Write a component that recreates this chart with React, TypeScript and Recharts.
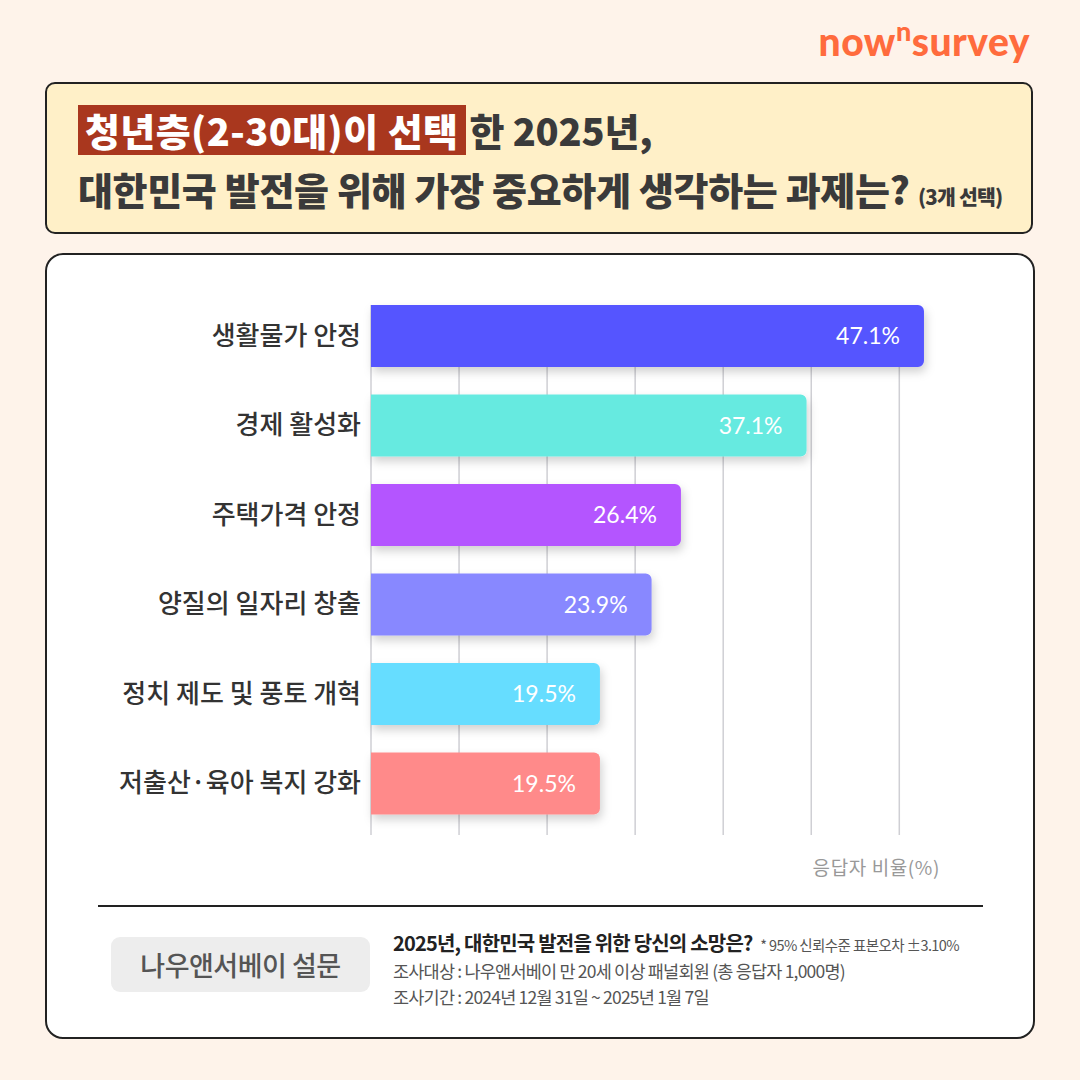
import React from 'react';
import { BarChart, Bar, XAxis, YAxis, CartesianGrid, Cell, LabelList } from 'recharts';

const categories = ['생활물가 안정', '경제 활성화', '주택가격 안정', '양질의 일자리 창출', '정치 제도 및 풍토 개혁', '저출산·육아 복지 강화'];
const shares = [47.1, 37.1, 26.4, 23.9, 19.5, 19.5];
const barColors = ['#5454FF', '#66EAE0', '#B455FF', '#8888FF', '#66DDFF', '#FF8A8A'];
const gridTicks = [0, 7.5, 15, 22.5, 30, 37.5, 45];

const KR = '"Noto Sans CJK KR", "Noto Sans", sans-serif';
const NUM = 'Lato, "Noto Sans", sans-serif';

const data = categories.map((name, i) => ({ name, value: shares[i] }));

const CategoryTick = (props: any) => {
  const { x, y, payload } = props;
  return (
    <text x={x - 2} y={y} dy={9} textAnchor="end" fill="#333" fontSize={26} fontWeight={500} fontFamily={KR}>
      {payload.value}
    </text>
  );
};

const App: React.FC = () => {
  return (
    <div style={{ position: 'absolute', left: 0, top: 0, width: 1080, height: 1080, background: '#FEF3EA', overflow: 'hidden', fontFamily: KR }}>
      {/* logo */}
      <div style={{ position: 'absolute', right: 50, top: 18, color: '#FF6B3D', fontFamily: 'Lato, "Noto Sans", sans-serif', fontWeight: 900, fontSize: 39, letterSpacing: 0.5 }}>
        now<span style={{ fontSize: 27, position: 'relative', top: -15 }}>n</span>survey
      </div>

      {/* title box */}
      <div style={{ position: 'absolute', left: 45, top: 82, width: 988, height: 152, background: '#FFF0C8', border: '2px solid #222', borderRadius: 10, boxSizing: 'border-box' }}>
        <div style={{ position: 'absolute', left: 31, top: 21, height: 50, lineHeight: '50px', fontSize: 38, fontWeight: 900, color: '#3a3a3a', whiteSpace: 'nowrap', letterSpacing: 0.4 }}>
          <span style={{ display: 'inline-block', background: '#A9371E', color: '#fff', padding: '0 8px 0 7px', height: 50 }}>청년층(2-30대)이 선택</span>
          <span style={{ marginLeft: 3, letterSpacing: -0.2 }}>한 2025년,</span>
        </div>
        <div style={{ position: 'absolute', left: 31, top: 80, lineHeight: '50px', fontSize: 38, fontWeight: 900, color: '#3a3a3a', whiteSpace: 'nowrap', letterSpacing: -0.35 }}>
          대한민국 발전을 위해 가장 중요하게 생각하는 과제는? <span style={{ fontSize: 20.5, letterSpacing: -0.8 }}>(3개 선택)</span>
        </div>
      </div>

      {/* chart card */}
      <div style={{ position: 'absolute', left: 45, top: 253, width: 990, height: 786, background: '#fff', border: '2px solid #222', borderRadius: 18, boxSizing: 'border-box' }} />

      <div style={{ position: 'absolute', left: 0, top: 0 }}>
        <BarChart
          width={1080}
          height={860}
          data={data}
          layout="vertical"
          margin={{ top: 291, right: 122, bottom: 32, left: 0 }}
          barSize={62}
        >
          <defs>
            <filter id="barShadow" x="-10%" y="-30%" width="130%" height="180%">
              <feDropShadow dx="2" dy="5" stdDeviation="5" floodColor="#000" floodOpacity="0.18" />
            </filter>
          </defs>
          <CartesianGrid horizontal={false} stroke="#cfcfd4" strokeWidth={1.5} y={305} height={530} verticalValues={gridTicks} />
          <XAxis type="number" domain={[0, 50]} ticks={gridTicks} hide />
          <YAxis
            type="category"
            dataKey="name"
            width={371}
            axisLine={false}
            tickLine={false}
            tick={<CategoryTick />}
          />
          <Bar dataKey="value" radius={[0, 6, 6, 0]} isAnimationActive={false} style={{ filter: 'url(#barShadow)' }}>
            {data.map((d, i) => (
              <Cell key={d.name} fill={barColors[i]} />
            ))}
            <LabelList
              dataKey="value"
              position="insideRight"
              offset={24}
              formatter={(v: any) => `${v}%`}
              fill="#fff"
              fontSize={23}
              fontFamily={NUM}
              fontWeight={400}
            />
          </Bar>
        </BarChart>
      </div>

      <div style={{ position: 'absolute', right: 140, top: 853, fontSize: 19, color: '#999', letterSpacing: 0.6 }}>응답자 비율(%)</div>

      {/* footer */}
      <div style={{ position: 'absolute', left: 98, top: 905, width: 885, height: 2, background: '#222' }} />
      <div style={{ position: 'absolute', left: 111, top: 937, width: 259, height: 55, background: '#EDEDED', borderRadius: 9, display: 'flex', alignItems: 'center', justifyContent: 'center', fontSize: 27, color: '#555', fontWeight: 500, letterSpacing: -0.5 }}>
        나우앤서베이 설문
      </div>
      <div style={{ position: 'absolute', left: 393, top: 929, whiteSpace: 'nowrap', letterSpacing: -0.8 }}>
        <div style={{ fontSize: 20, lineHeight: '27px', fontWeight: 700, color: '#222' }}>
          2025년, 대한민국 발전을 위한 당신의 소망은? <span style={{ fontSize: 14.5, fontWeight: 400, color: '#555', marginLeft: 4, letterSpacing: -0.6 }}>* 95% 신뢰수준 표본오차 ±3.10%</span>
        </div>
        <div style={{ fontSize: 17.5, lineHeight: '26px', color: '#555' }}>조사대상 : 나우앤서베이 만 20세 이상 패널회원 (총 응답자 1,000명)</div>
        <div style={{ fontSize: 17.5, lineHeight: '26px', color: '#555' }}>조사기간 : 2024년 12월 31일 ~ 2025년 1월 7일</div>
      </div>
    </div>
  );
};

export default App;
